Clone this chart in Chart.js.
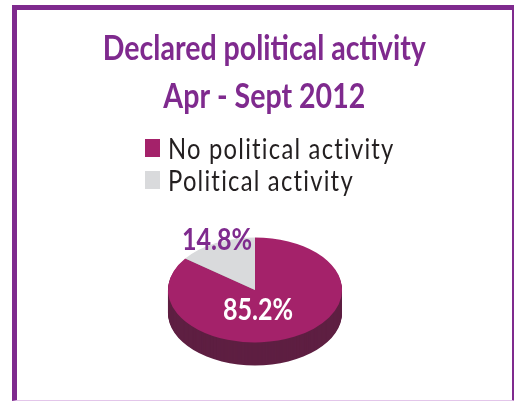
<!DOCTYPE html>
<html>
<head>
<meta charset="utf-8">
<script src="https://cdn.jsdelivr.net/npm/chart.js@4"></script>
<style>
html, body { margin: 0; padding: 0; background: #fff; overflow: hidden; }
#wrap { position: relative; width: 514px; height: 401px; overflow: hidden; }
#frame {
    position: absolute; left: 12px; top: 5px; width: 504px; height: 396px; box-sizing: border-box;
    border: solid #7f2a8e; border-width: 5px 4px 1px 5px; border-bottom-color: #e3c6ea;
}
#pie { position: absolute; left: 0; top: 0; }
.legend-row { position: absolute; left: 145px; height: 18px; }
.legend-box { position: absolute; left: 0; top: 0; width: 15px; height: 18px; }
.legend-text {
    position: absolute; left: 23px; top: -7px; white-space: nowrap; color: #231f20;
    font: 29px/32px Lato, sans-serif; letter-spacing: 1.5px;
    transform: scaleX(0.82); transform-origin: left center;
}
</style>
</head>
<body>
<div id="wrap">
    <div id="frame"></div>
    <canvas id="pie" width="514" height="401"></canvas>
    <div id="legend"></div>
</div>
<script>
const titleLines = ["Declared political activity", "Apr - Sept 2012"];
const categories = ["No political activity", "Political activity"];
const shares = [85.2, 14.8];
const sliceColors = ["#a4226a", "#d9dadc"];
const sideColors = ["#5e1f42", "#8f9092"];
const labelColors = ["#ffffff", "#7f2a8e"];
// label centre relative to the pie centre
const labelOffsets = [[3, 20], [-38, -50]];

const squash = 0.603;
const depth = 23;
const narrow = 0.84;
const titleCenter = 266;

// html legend, the built in one can't stack rows like this
const legendEl = document.getElementById("legend");
categories.forEach((name, i) => {
    const row = document.createElement("div");
    row.className = "legend-row";
    row.style.top = (139 + i * 32) + "px";
    row.innerHTML = `<div class="legend-box" style="background:${sliceColors[i]}"></div><div class="legend-text">${name}</div>`;
    legendEl.appendChild(row);
});

// flattens the pie into an ellipse, puts a rim under it and narrows the text
const tiltPlugin = {
    id: "tilt",
    beforeDraw(chart) {
        const ctx = chart.ctx;
        ctx.save();
        ctx.translate(titleCenter, 0);
        ctx.scale(narrow, 1);
        ctx.translate(-chart.width / 2, 0);
    },
    beforeDatasetsDraw(chart) {
        const ctx = chart.ctx;
        ctx.restore(); // title is done, back to normal coordinates
        const arcs = chart.getDatasetMeta(0).data;
        ctx.save();
        for (let d = depth; d > 0; d--) {
            arcs.forEach((arc, i) => {
                ctx.fillStyle = sideColors[i];
                ctx.beginPath();
                ctx.moveTo(arc.x, arc.y + d);
                ctx.ellipse(arc.x, arc.y + d, arc.outerRadius, arc.outerRadius * squash, 0, arc.startAngle, arc.endAngle);
                ctx.closePath();
                ctx.fill();
            });
        }
        ctx.restore();
        const c = arcs[0];
        ctx.save();
        ctx.translate(c.x, c.y);
        ctx.scale(1, squash);
        ctx.translate(-c.x, -c.y);
    },
    afterDatasetsDraw(chart) {
        const ctx = chart.ctx;
        ctx.restore();
        const arcs = chart.getDatasetMeta(0).data;
        arcs.forEach((arc, i) => {
            ctx.save();
            ctx.translate(arc.x + labelOffsets[i][0], arc.y + labelOffsets[i][1]);
            ctx.scale(0.81, 1);
            ctx.font = "bold 31px Lato, sans-serif";
            ctx.textAlign = "center";
            ctx.textBaseline = "middle";
            ctx.fillStyle = labelColors[i];
            ctx.fillText(shares[i].toFixed(1) + "%", 0, 0);
            ctx.restore();
        });
    }
};

new Chart(document.getElementById("pie"), {
    type: "pie",
    data: {
        labels: categories,
        datasets: [{
            data: shares,
            backgroundColor: sliceColors,
            borderWidth: 0,
            clip: false
        }]
    },
    options: {
        responsive: false,
        animation: false,
        layout: { padding: { right: 4, bottom: 24 } },
        plugins: {
            legend: { display: false },
            tooltip: { enabled: false },
            title: {
                display: true,
                text: titleLines,
                color: "#7f2a8e",
                font: { family: "Lato, sans-serif", size: 34, weight: "bold", lineHeight: 1.41 },
                padding: { top: 25, bottom: 82 }
            }
        }
    },
    plugins: [tiltPlugin]
});
</script>
</body>
</html>
